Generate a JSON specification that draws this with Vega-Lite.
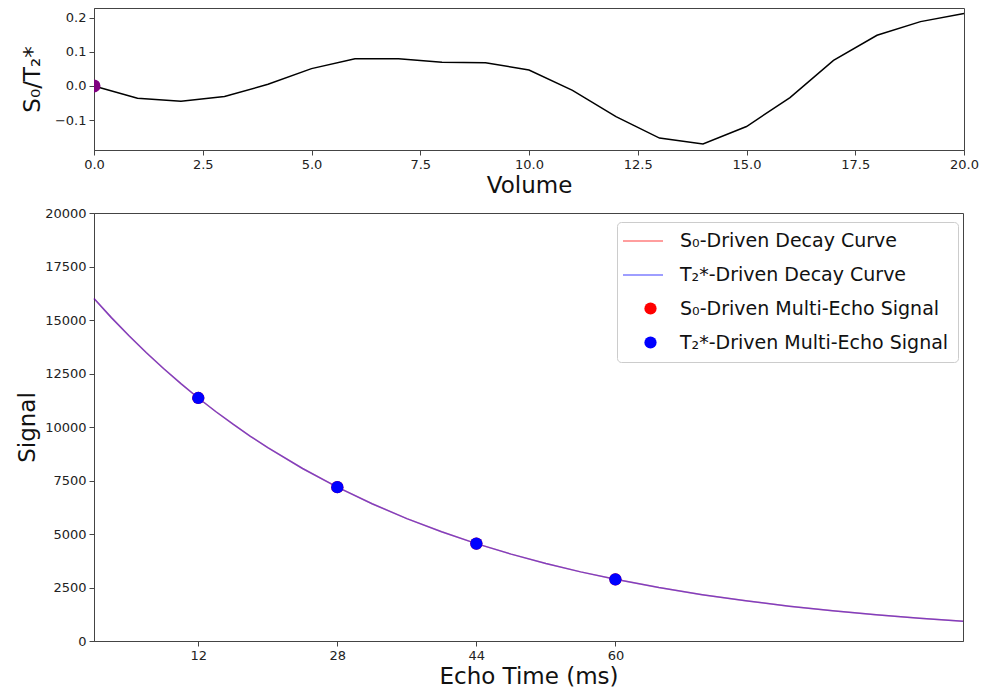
{
  "$schema": "https://vega.github.io/schema/vega-lite/v6.json",
  "background": "white",
  "padding": {"left": 16, "top": 7, "right": 5, "bottom": 0},
  "spacing": 8,
  "config": {
    "font": "DejaVu Sans",
    "view": {"stroke": "#444", "strokeWidth": 1},
    "axis": {
      "domainColor": "#444", "tickColor": "#444", "tickSize": 5, "grid": false,
      "labelFontSize": 13, "labelColor": "#222", "labelPadding": 3, "labelFont": "DejaVu Sans",
      "titleFontSize": 23, "titleFontWeight": "normal", "titleColor": "#111", "titleFont": "DejaVu Sans"
    },
    "legend": {"labelFont": "DejaVu Sans", "labelFontSize": 19, "labelColor": "#111", "labelLimit": 400}
  },
  "datasets": {
    "volumes": [
      {"volume": 0, "ratio": 0.0},
      {"volume": 1, "ratio": -0.036},
      {"volume": 2, "ratio": -0.045},
      {"volume": 3, "ratio": -0.031},
      {"volume": 4, "ratio": 0.005},
      {"volume": 5, "ratio": 0.051},
      {"volume": 6, "ratio": 0.080},
      {"volume": 7, "ratio": 0.080},
      {"volume": 8, "ratio": 0.070},
      {"volume": 9, "ratio": 0.068},
      {"volume": 10, "ratio": 0.047},
      {"volume": 11, "ratio": -0.013},
      {"volume": 12, "ratio": -0.090},
      {"volume": 13, "ratio": -0.153},
      {"volume": 14, "ratio": -0.170},
      {"volume": 15, "ratio": -0.119},
      {"volume": 16, "ratio": -0.034},
      {"volume": 17, "ratio": 0.075},
      {"volume": 18, "ratio": 0.149},
      {"volume": 19, "ratio": 0.189},
      {"volume": 20, "ratio": 0.213}
    ],
    "current": [{"volume": 0, "ratio": 0.0}],
    "curve": [
      {"te": 0, "signal": 16000}, {"te": 2, "signal": 15111}, {"te": 4, "signal": 14272},
      {"te": 6, "signal": 13479}, {"te": 8, "signal": 12731}, {"te": 10, "signal": 12024},
      {"te": 12, "signal": 11356}, {"te": 14, "signal": 10725}, {"te": 16, "signal": 10130},
      {"te": 18, "signal": 9567}, {"te": 20, "signal": 9036}, {"te": 24, "signal": 8060},
      {"te": 28, "signal": 7189}, {"te": 32, "signal": 6413}, {"te": 36, "signal": 5720},
      {"te": 40, "signal": 5102}, {"te": 44, "signal": 4551}, {"te": 48, "signal": 4060},
      {"te": 52, "signal": 3621}, {"te": 56, "signal": 3230}, {"te": 60, "signal": 2881},
      {"te": 65, "signal": 2498}, {"te": 70, "signal": 2165}, {"te": 75, "signal": 1877},
      {"te": 80, "signal": 1627}, {"te": 85, "signal": 1411}, {"te": 90, "signal": 1223},
      {"te": 95, "signal": 1060}, {"te": 100, "signal": 919}
    ],
    "echoes": [
      {"te": 12, "signal": 11356, "series": "S₀-Driven Multi-Echo Signal"},
      {"te": 28, "signal": 7189, "series": "S₀-Driven Multi-Echo Signal"},
      {"te": 44, "signal": 4551, "series": "S₀-Driven Multi-Echo Signal"},
      {"te": 60, "signal": 2881, "series": "S₀-Driven Multi-Echo Signal"},
      {"te": 12, "signal": 11356, "series": "T₂*-Driven Multi-Echo Signal"},
      {"te": 28, "signal": 7189, "series": "T₂*-Driven Multi-Echo Signal"},
      {"te": 44, "signal": 4551, "series": "T₂*-Driven Multi-Echo Signal"},
      {"te": 60, "signal": 2881, "series": "T₂*-Driven Multi-Echo Signal"}
    ]
  },
  "vconcat": [
    {
      "width": 870,
      "height": 142,
      "layer": [
        {
          "data": {"name": "volumes"},
          "mark": {"type": "line", "color": "#000000", "strokeWidth": 1.5},
          "encoding": {
            "x": {"field": "volume", "type": "quantitative",
                  "scale": {"domain": [0, 20], "nice": false},
                  "axis": {"title": "Volume", "values": [0, 2.5, 5, 7.5, 10, 12.5, 15, 17.5, 20], "format": ".1f", "labelFlush": false, "titlePadding": 3}},
            "y": {"field": "ratio", "type": "quantitative",
                  "scale": {"domain": [-0.188, 0.229], "nice": false, "zero": false},
                  "axis": {"title": "S₀/T₂*", "values": [-0.1, 0, 0.1, 0.2], "format": ".1f", "titlePadding": 10}}
          }
        },
        {
          "data": {"name": "current"},
          "mark": {"type": "point", "filled": true, "color": "#800080", "size": 170, "opacity": 1, "clip": true},
          "encoding": {
            "x": {"field": "volume", "type": "quantitative"},
            "y": {"field": "ratio", "type": "quantitative"}
          }
        }
      ]
    },
    {
      "width": 869,
      "height": 428,
      "layer": [
        {
          "data": {"name": "curve"},
          "mark": {"type": "line", "strokeWidth": 1.5, "opacity": 0.5},
          "encoding": {
            "x": {"field": "te", "type": "quantitative"},
            "y": {"field": "signal", "type": "quantitative"},
            "stroke": {
              "datum": "S₀-Driven Decay Curve",
              "scale": {"domain": ["S₀-Driven Decay Curve", "T₂*-Driven Decay Curve"], "range": ["#ff0000", "#0000ff"]},
              "legend": {
                "title": null,
                "orient": "none",
                "legendX": 519,
                "legendY": 203,
                "padding": 9,
                "symbolSize": 1600,
                "symbolStrokeWidth": 1.5,
                "labelOffset": 16,
                "rowPadding": 3
              }
            }
          }
        },
        {
          "data": {"name": "curve"},
          "mark": {"type": "line", "strokeWidth": 1.5, "opacity": 0.5},
          "encoding": {
            "x": {"field": "te", "type": "quantitative",
                  "scale": {"domain": [0, 100], "nice": false},
                  "axis": {"title": "Echo Time (ms)", "values": [12, 28, 44, 60], "titlePadding": 3}},
            "y": {"field": "signal", "type": "quantitative",
                  "scale": {"domain": [0, 20000], "nice": false},
                  "axis": {"title": "Signal", "values": [0, 2500, 5000, 7500, 10000, 12500, 15000, 17500, 20000], "format": "d", "titlePadding": 5}},
            "stroke": {"datum": "T₂*-Driven Decay Curve"}
          }
        },
        {
          "data": {"name": "echoes"},
          "mark": {"type": "point", "filled": true, "size": 150, "opacity": 1},
          "encoding": {
            "x": {"field": "te", "type": "quantitative"},
            "y": {"field": "signal", "type": "quantitative"},
            "fill": {
              "field": "series", "type": "nominal",
              "scale": {
                "domain": ["S₀-Driven Multi-Echo Signal", "T₂*-Driven Multi-Echo Signal"],
                "range": ["#ff0000", "#0000ff"]
              },
              "legend": {
                "title": " ",
                "titleFontSize": 19,
                "titlePadding": 49,
                "orient": "none",
                "legendX": 523,
                "legendY": 214,
                "padding": 9,
                "strokeColor": "#cccccc",
                "cornerRadius": 4,
                "symbolSize": 150,
                "symbolOffset": 15,
                "labelOffset": 20,
                "rowPadding": 14
              }
            }
          }
        }
      ]
    }
  ]
}
